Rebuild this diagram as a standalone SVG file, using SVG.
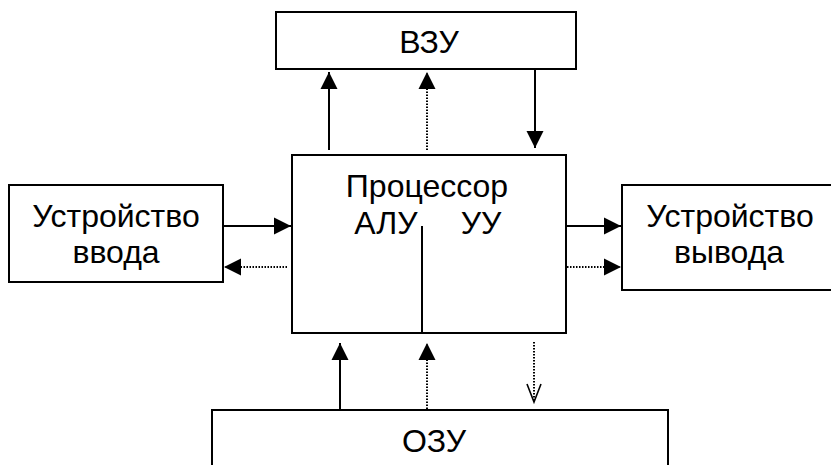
<svg xmlns="http://www.w3.org/2000/svg" width="831" height="465" viewBox="0 0 831 465">
<style>
.box{fill:#fff;stroke:#000;stroke-width:2}
.t{font-family:"Liberation Sans",Arial,sans-serif;font-size:32px;fill:#000;text-anchor:middle}
.s{stroke:#000;stroke-width:2;fill:none}
.d{stroke:#000;stroke-width:2;fill:none;stroke-dasharray:1.5 1.5}
</style>
<defs>
<marker id="ah" markerUnits="userSpaceOnUse" markerWidth="19" markerHeight="19" viewBox="0 0 19 19" refX="17" refY="9.5" orient="auto">
<path d="M0,1 L17,9.5 L0,18 Z" fill="#000"/>
</marker>
<marker id="ov" markerUnits="userSpaceOnUse" markerWidth="22" markerHeight="18" viewBox="0 0 22 18" refX="19" refY="9" orient="auto">
<path d="M1,2 L19,9 L1,16" fill="none" stroke="#000" stroke-width="1.6"/>
</marker>
</defs>
<g id="vzu">
<rect class="box" x="276" y="12" width="300" height="57"/>
<text class="t" x="429" y="53">ВЗУ</text>
</g>
<g id="cpu">
<rect class="box" x="292" y="155" width="274" height="178"/>
<text class="t" x="427" y="197">Процессор</text>
<text class="t" x="386" y="234">АЛУ</text>
<text class="t" x="481" y="234">УУ</text>
<line class="s" x1="422" y1="226" x2="422" y2="333"/>
</g>
<g id="input">
<rect class="box" x="9" y="185" width="214" height="97"/>
<text class="t" x="116" y="227">Устройство</text>
<text class="t" x="116" y="263">ввода</text>
</g>
<g id="output">
<rect class="box" x="622" y="185" width="215" height="105"/>
<text class="t" x="730" y="227">Устройство</text>
<text class="t" x="729" y="263">вывода</text>
</g>
<g id="ozu">
<rect class="box" x="212" y="410" width="456" height="70"/>
<text class="t" x="434" y="452">ОЗУ</text>
</g>
<g id="connectors">
<line class="s" x1="329" y1="150" x2="329" y2="72" marker-end="url(#ah)"/>
<line class="d" x1="427" y1="150" x2="427" y2="72" marker-end="url(#ah)"/>
<line class="s" x1="535" y1="70" x2="535" y2="148" marker-end="url(#ah)"/>
<line class="s" x1="223" y1="226" x2="291" y2="226" marker-end="url(#ah)"/>
<line class="d" x1="287" y1="267" x2="224" y2="267" marker-end="url(#ah)"/>
<line class="s" x1="566" y1="226" x2="621" y2="226" marker-end="url(#ah)"/>
<line class="d" x1="567" y1="267" x2="621" y2="267" marker-end="url(#ah)"/>
<line class="s" x1="340" y1="409" x2="340" y2="343" marker-end="url(#ah)"/>
<line class="d" x1="427" y1="409" x2="427" y2="343" marker-end="url(#ah)"/>
<line class="d" x1="534" y1="342" x2="534" y2="402" marker-end="url(#ov)"/>
</g>
</svg>
